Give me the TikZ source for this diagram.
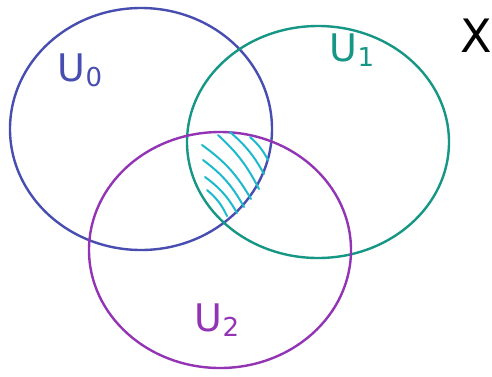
\documentclass[tikz,border=0pt]{standalone}
\usepackage{fontspec}
\setmainfont{DejaVu Sans}
\definecolor{cblue}{RGB}{72,78,176}
\definecolor{cteal}{RGB}{22,150,132}
\definecolor{cpurple}{RGB}{146,52,180}
\definecolor{ccyan}{RGB}{28,186,204}
\newcommand{\usub}[1]{U\raisebox{-5pt}{\fontsize{26}{26}\selectfont #1}}
\begin{document}
\begin{tikzpicture}[x=1pt,y=-1pt,
  setline/.style={line width=2.4pt},
  hatch/.style={ccyan,line width=2pt,line cap=round},
  lbl/.style={font=\fontsize{38}{38}\selectfont}]
\useasboundingbox[fill=white] (0,0) rectangle (492,376);
\draw[setline,cblue] (141,129) ellipse [x radius=131, y radius=121];
\draw[setline,cteal] (318,142) ellipse [x radius=131, y radius=116];
\draw[setline,cpurple] (220,250) ellipse [x radius=131, y radius=118];
% hatching
\draw[hatch] (250,137) to[bend left=10] (268,160);
\draw[hatch] (230,132) to[bend left=10] (264,174);
\draw[hatch] (218,135) to[bend left=10] (259,189);
\draw[hatch] (202,145) to[bend left=12] (251,199);
\draw[hatch] (203,160) to[bend left=12] (244,207);
\draw[hatch] (205,177) to[bend left=12] (237,213);
\draw[hatch] (207,190) to[bend left=12] (227,216);
\node[lbl,cblue] (u0) at (80,70) {\usub{0}};
\node[lbl,cteal] (u1) at (352,50) {\usub{1}};
\node[lbl,cpurple] (u2) at (217,320) {\usub{2}};
\node[font=\fontsize{46}{46}\selectfont] (x) at (476,36) {X};
\end{tikzpicture}
\end{document}
